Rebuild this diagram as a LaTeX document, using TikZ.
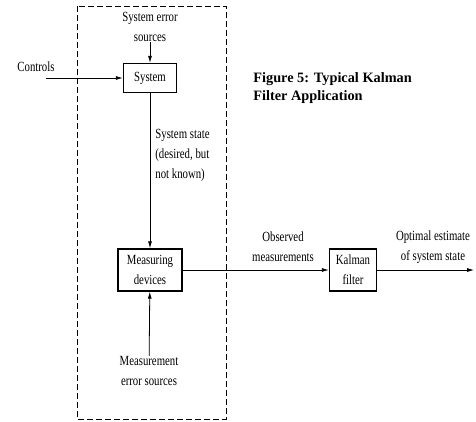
\documentclass[tikz,border=0pt]{standalone}
\usepackage{fontspec}
\setmainfont{Liberation Serif}
\newfontfamily\condfont[FakeStretch=0.77]{Liberation Serif}
\usetikzlibrary{arrows.meta}

\tikzset{
  blk/.style={draw, line width=1.3pt, align=center, inner sep=0pt,
    font=\condfont\fontsize{14}{20}\selectfont},
  lbl/.style={align=center, inner sep=0pt, font=\condfont\fontsize{14}{20}\selectfont},
  >={Latex[length=7pt,width=4pt]}
}

\begin{document}
\begin{tikzpicture}[x=1pt, y=-1pt, line width=0.8pt]
  \useasboundingbox (0,0) rectangle (476,421);

  \draw [dash pattern=on 6pt off 3pt] (77,6) rectangle (226,419);

  \node[blk, minimum width=53pt, minimum height=29pt] (sys) at (150,78) {System};
  \node[blk, minimum width=64pt, minimum height=42pt] (meas) at (150,270) {Measuring\\devices};
  \node[blk, minimum width=47pt, minimum height=42pt] (kal) at (353,270) {Kalman\\filter};

  \node[lbl] (syserr) at (150,27) {System error\\sources};
  \node[lbl] (ctrl) at (36,67) {Controls};
  \node[lbl, align=left, anchor=west] (state) at (155,155) {System state\\(desired, but\\not known)};
  \node[lbl] (obs) at (283,247) {Observed\\measurements};
  \node[lbl] (opt) at (433,247) {Optimal estimate\\of system state};
  \node[lbl] (measerr) at (149,371) {Measurement\\error sources};
  \node[align=left, anchor=west, inner sep=0pt, font=\fontsize{14.3}{18}\selectfont\bfseries] (cap) at (253,88) {Figure 5: Typical Kalman\\Filter Application};

  \coordinate (ctrlin) at (46,78);
  \coordinate (outend) at (474,270);

  \draw [->] (syserr) -- (sys);
  \draw [->] (ctrlin) -- (sys);
  \draw [->] (sys) -- (meas);
  \draw [->] (measerr) -- (meas);
  \draw [->] (meas) -- (kal);
  \draw [->] (kal) -- (outend);
\end{tikzpicture}
\end{document}
